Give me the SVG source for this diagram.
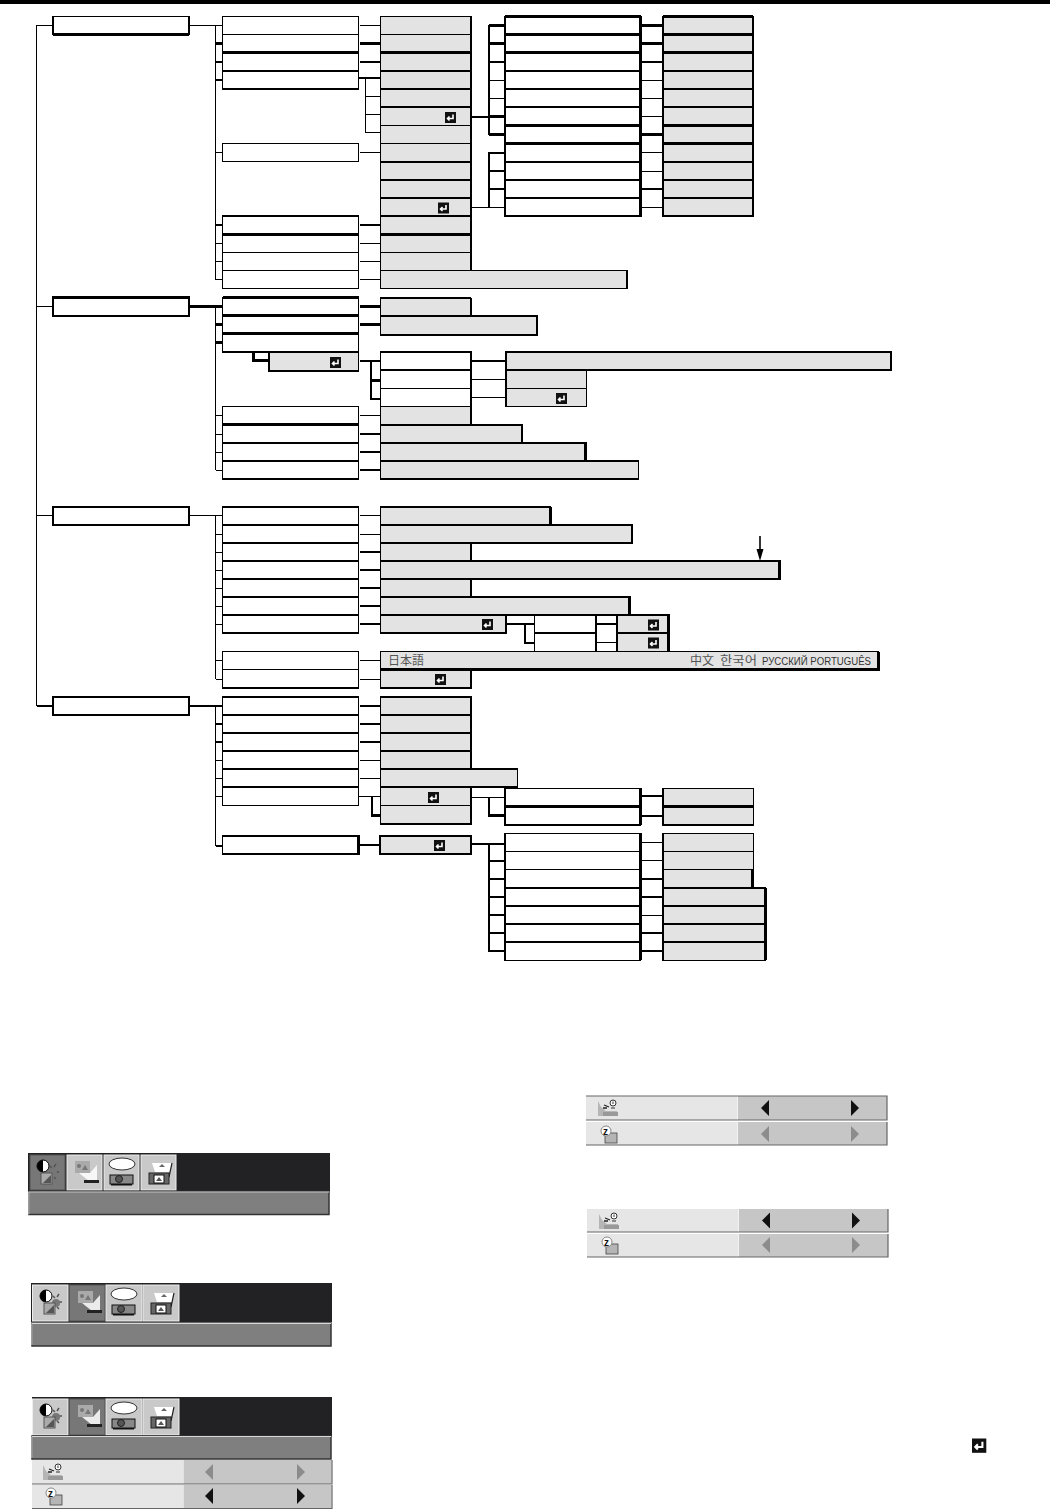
<svg xmlns="http://www.w3.org/2000/svg" width="1050" height="1509" viewBox="0 0 1050 1509">
<style>
.w{fill:#fff;stroke:#000;stroke-width:1.2;shape-rendering:crispEdges}
.g{fill:#e3e3e3;stroke:#000;stroke-width:1.2;shape-rendering:crispEdges}
.l{fill:none;stroke:#000;stroke-width:1.2;shape-rendering:crispEdges}
.t{fill:none;stroke:#000;stroke-width:2.2;shape-rendering:crispEdges}
.lab{font-family:"Liberation Sans",sans-serif;font-size:10px;fill:#333}
.cjk{font-family:"Noto Sans CJK JP","Noto Sans CJK KR",sans-serif;font-size:12px;fill:#555}
.tab{fill:#c9c9c9;stroke:#eee;stroke-width:1}
.sel{fill:#777;stroke:#555;stroke-width:1}
.bar{fill:#7f7f7f;stroke:#333;stroke-width:1.5}
.hi{fill:none;stroke:#d8d8d8;stroke-width:1}
.sh{fill:none;stroke:#666;stroke-width:1.2}
.dk{fill:#222224}
.rl{fill:#e6e6e6}
.rr{fill:#c6c6c6}
.on{fill:#111}
.off{fill:#8c8c8c}
</style>
<defs>
<g id="ret"><rect width="11" height="11" fill="#111"/><path d="M8 2.5V6.5H3M4.5 4.5L2.5 6.5L4.5 8.5" fill="none" stroke="#fff" stroke-width="1.6"/></g>
<g id="i1"><circle cx="13" cy="11" r="6" fill="#fff" stroke="#000"/><path d="M13 5A6 6 0 0 0 13 17Z" fill="#000"/><path d="M22 13L20 11M26 17H29M24 22L26 24M24 12L26 9" stroke="#555" stroke-width="1.5"/><circle cx="23" cy="18" r="4" fill="#777"/><rect x="11" y="18" width="11" height="11" fill="#aaa" stroke="#555"/><path d="M13 28L21 20V28Z" fill="#555"/></g>
<g id="i2"><rect x="8" y="6" width="15" height="12" fill="#aaa"/><circle cx="12" cy="11" r="2" fill="#777"/><path d="M15 15L18 10L21 15Z" fill="#777"/><path d="M12 18H23L30 10V26H22Z" fill="#fff" opacity=".85"/><rect x="17" y="25" width="15" height="3" fill="#222"/></g>
<g id="i3"><ellipse cx="18" cy="9" rx="13" ry="6" fill="#fff" stroke="#333"/><rect x="6" y="20" width="23" height="9" fill="#888" stroke="#111"/><circle cx="15" cy="24" r="3.5" fill="#555" stroke="#222"/><rect x="7" y="29" width="21" height="1.5" fill="#111"/></g>
<g id="i4"><path d="M11 8H31L29 17H14Z" fill="#fff"/><path d="M21 9L24 12H18Z" fill="#666"/><path d="M31 8L28 22" stroke="#222" stroke-width="1.2"/><rect x="8" y="18" width="20" height="11" fill="#666" stroke="#222"/><rect x="13" y="20" width="10" height="8" fill="#fff" stroke="#111"/><path d="M15 26L18 22L21 26Z" fill="#555"/></g>
<g id="r1"><path d="M0 2V17H19V12H8L3 8Z" fill="#b5b5b5"/><rect x="5" y="13" width="15" height="4" fill="#999"/><path d="M6 6L11 8M5 9H9" stroke="#222" stroke-width="1.3"/><circle cx="15" cy="4" r="3" fill="#fff" stroke="#333"/><path d="M15 2.5V5M13 9H17" stroke="#333"/></g>
<g id="r2"><rect x="5" y="7" width="12" height="10" fill="#b5b5b5" stroke="#444" stroke-width=".8"/><circle cx="6" cy="5" r="5" fill="#fff" stroke="#888"/><text x="3" y="8.5" font-family="Liberation Sans,sans-serif" font-size="10" font-weight="bold" fill="#111">z</text></g>
</defs>
<rect id="bg" width="1050" height="1509" fill="#fff"/>
<rect id="top-bar" width="1050" height="4" fill="#000"/>

<g id="connectors">
<path class="l" d="M53 25.5H36.5V706M36.5 306.5H53M36.5 515.5H53M36.5 706H53M190 25.5H222.5M215.5 25.5V279.5M215.5 152.5H222.5M215.5 243.5H222.5M215.5 261.5H222.5M215.5 279.5H222.5M360 25.5H380.5M360 152.5H380.5M360 243.5H380.5M360 261.5H380.5M360 279.5H380.5M365.5 78.5V132.5H380.5M365.5 96.5H380.5M365.5 114.5H380.5M471 207.5H505M641 80.5H663M641 98.5H663M641 116.5H663M641 152.5H663M641 171.5H663M641 207.5H663M488 80.5H505M488 98.5H505M488 207.5H505"/>
<path class="t" d="M215.5 43.5H222.5M215.5 62H222.5M215.5 80H222.5M215.5 225H222.5M360 43.5H380.5M360 62H380.5M359 78H380.5M360 225H380.5M471 117H505M489 25V135M489 25.5H505M489 43.5H505M489 62H505M489 116.5H505M489 134.5H505M505 153H489V207M489 171H505M489 189H505M641 25.5H663M641 43.5H663M641 62H663M641 134.5H663M641 189H663"/>

<path class="l" d="M215.5 306.5V470M215.5 415.5H222.5M215.5 434.5H222.5M215.5 452.5H222.5M215.5 470.5H222.5M360 415.5H380.5M471 379.5H506M471 397.5H506"/>
<path class="t" d="M189 306.5H222.5M215.5 324.5H222.5M215.5 342.5H222.5M253.5 352V360.5H269M360 306.5H380.5M360 324.5H380.5M360 361H380.5M371 361V399H380.5M371 380.5H380.5M471 361H506M360 434H380.5M360 452H380.5M360 470H380.5"/>

<path class="l" d="M189 515.5H222.5M215.5 515.5V679M215.5 534.5H222.5M215.5 552.5H222.5M215.5 570.5H222.5M215.5 588.5H222.5M215.5 606.5H222.5M215.5 624.5H222.5M215.5 660.5H222.5M215.5 679.5H222.5M360 515.5H380.5M360 534.5H380.5M360 660.5H380.5M360 679.5H380.5M596 642.5H617"/>
<path class="t" d="M360 552H380.5M360 570H380.5M360 588H380.5M360 606H380.5M360 624H380.5M506 624H534M525 624V643H534M596 624H617"/>
<path d="M760 536V553" stroke="#000" stroke-width="1.6" fill="none"/><path d="M756.5 549L760 561L763.5 549Z" fill="#000"/>

<path class="l" d="M215.5 706V846M215.5 760.5H222.5M215.5 778.5H222.5M215.5 796.5H222.5M360 760.5H380.5M360 778.5H380.5M359 796.5H380.5M471 797.5H505M641 842.5H663M641 860.5H663M641 915.5H663"/>
<path class="t" d="M189 706H222.5M215.5 724H222.5M215.5 742H222.5M215.5 846H222.5M360 706H380.5M360 724H380.5M360 742H380.5M372 796.5V815.5H380.5M489 797.5V815.5H505M641 796H663M641 816H663M359 845H380.5M471 844H505M489 844V951H505M489 861H505M489 879H505M489 897H505M489 915H505M489 933H505M641 879H663M641 897H663M641 933H663M641 951H663"/>
</g>

<g id="col-a">
<g id="a1"><rect class="w" x="53" y="16.5" width="136" height="18"/></g>
<g id="a2"><rect class="w" x="53" y="298" width="136" height="18"/></g>
<g id="a3"><rect class="w" x="53" y="507" width="136" height="18"/></g>
<g id="a4"><rect class="w" x="53" y="697" width="136" height="18"/></g>
</g>

<g id="s1-b">
<g id="b1"><rect class="w" x="222.5" y="16.5" width="136" height="18"/></g>
<g id="b2"><rect class="w" x="222.5" y="34.5" width="136" height="18"/></g>
<g id="b3"><rect class="w" x="222.5" y="52.5" width="136" height="18.5"/></g>
<g id="b4"><rect class="w" x="222.5" y="71" width="136" height="18"/></g>
<g id="b5"><rect class="w" x="222.5" y="143.5" width="136" height="18"/></g>
<g id="b6"><rect class="w" x="222.5" y="216" width="136" height="18.5"/></g>
<g id="b7"><rect class="w" x="222.5" y="234.5" width="136" height="18"/></g>
<g id="b8"><rect class="w" x="222.5" y="252.5" width="136" height="18"/></g>
<g id="b9"><rect class="w" x="222.5" y="270.5" width="136" height="18"/></g>
</g>
<g id="s1-c">
<g id="c1"><rect class="g" x="380.5" y="16.5" width="90" height="18"/></g>
<g id="c2"><rect class="g" x="380.5" y="34.5" width="90" height="18"/></g>
<g id="c3"><rect class="g" x="380.5" y="52.5" width="90" height="18.5"/></g>
<g id="c4"><rect class="g" x="380.5" y="71" width="90" height="18"/></g>
<g id="c5"><rect class="g" x="380.5" y="89" width="90" height="18"/></g>
<g id="c6"><rect class="g" x="380.5" y="107" width="90" height="18.5"/><use href="#ret" x="445" y="112"/></g>
<g id="c7"><rect class="g" x="380.5" y="125.5" width="90" height="18"/></g>
<g id="c8"><rect class="g" x="380.5" y="143.5" width="90" height="18.5"/></g>
<g id="c9"><rect class="g" x="380.5" y="162" width="90" height="18"/></g>
<g id="c10"><rect class="g" x="380.5" y="180" width="90" height="18"/></g>
<g id="c11"><rect class="g" x="380.5" y="198" width="90" height="18"/><use href="#ret" x="438" y="202.5"/></g>
<g id="c12"><rect class="g" x="380.5" y="216" width="90" height="18.5"/></g>
<g id="c13"><rect class="g" x="380.5" y="234.5" width="90" height="18"/></g>
<g id="c14"><rect class="g" x="380.5" y="252.5" width="90" height="18"/></g>
<g id="c15"><rect class="g" x="380.5" y="270.5" width="246.5" height="18"/></g>
</g>
<g id="s1-d">
<g id="d1"><rect class="w" x="505" y="16.5" width="135.5" height="18"/></g>
<g id="d2"><rect class="w" x="505" y="34.5" width="135.5" height="18"/></g>
<g id="d3"><rect class="w" x="505" y="52.5" width="135.5" height="18.5"/></g>
<g id="d4"><rect class="w" x="505" y="71" width="135.5" height="18"/></g>
<g id="d5"><rect class="w" x="505" y="89" width="135.5" height="18"/></g>
<g id="d6"><rect class="w" x="505" y="107" width="135.5" height="18.5"/></g>
<g id="d7"><rect class="w" x="505" y="125.5" width="135.5" height="18"/></g>
<g id="d8"><rect class="w" x="505" y="143.5" width="135.5" height="18.5"/></g>
<g id="d9"><rect class="w" x="505" y="162" width="135.5" height="18"/></g>
<g id="d10"><rect class="w" x="505" y="180" width="135.5" height="18"/></g>
<g id="d11"><rect class="w" x="505" y="198" width="135.5" height="18"/></g>
</g>
<g id="s1-e">
<g id="e1"><rect class="g" x="663" y="16.5" width="90" height="18"/></g>
<g id="e2"><rect class="g" x="663" y="34.5" width="90" height="18"/></g>
<g id="e3"><rect class="g" x="663" y="52.5" width="90" height="18.5"/></g>
<g id="e4"><rect class="g" x="663" y="71" width="90" height="18"/></g>
<g id="e5"><rect class="g" x="663" y="89" width="90" height="18"/></g>
<g id="e6"><rect class="g" x="663" y="107" width="90" height="18.5"/></g>
<g id="e7"><rect class="g" x="663" y="125.5" width="90" height="18"/></g>
<g id="e8"><rect class="g" x="663" y="143.5" width="90" height="18.5"/></g>
<g id="e9"><rect class="g" x="663" y="162" width="90" height="18"/></g>
<g id="e10"><rect class="g" x="663" y="180" width="90" height="18"/></g>
<g id="e11"><rect class="g" x="663" y="198" width="90" height="18"/></g>
</g>

<g id="s2">
<g id="b10"><rect class="w" x="222.5" y="297.5" width="136" height="18"/></g>
<g id="b11"><rect class="w" x="222.5" y="315.5" width="136" height="18"/></g>
<g id="b12"><rect class="w" x="222.5" y="333.5" width="136" height="18.5"/></g>
<g id="b13"><rect class="g" x="269" y="352" width="89.5" height="18.5"/><use href="#ret" x="330" y="357"/></g>
<g id="b14"><rect class="w" x="222.5" y="406.5" width="136" height="18"/></g>
<g id="b15"><rect class="w" x="222.5" y="424.5" width="136" height="18.5"/></g>
<g id="b16"><rect class="w" x="222.5" y="443" width="136" height="18"/></g>
<g id="b17"><rect class="w" x="222.5" y="461" width="136" height="18"/></g>
<g id="c16"><rect class="g" x="380.5" y="298" width="90" height="18"/></g>
<g id="c17"><rect class="g" x="380.5" y="316" width="156.5" height="18.5"/></g>
<g id="c18"><rect class="w" x="380.5" y="352" width="90" height="18"/></g>
<g id="c19"><rect class="w" x="380.5" y="370" width="90" height="18.5"/></g>
<g id="c20"><rect class="w" x="380.5" y="388.5" width="90" height="18"/></g>
<g id="c21"><rect class="g" x="380.5" y="406.5" width="90" height="18.5"/></g>
<g id="c22"><rect class="g" x="380.5" y="425" width="141.5" height="18"/></g>
<g id="c23"><rect class="g" x="380.5" y="443" width="205" height="18"/></g>
<g id="c24"><rect class="g" x="380.5" y="461" width="258" height="18"/></g>
<g id="e12"><rect class="g" x="506" y="352" width="385" height="18"/></g>
<g id="e13"><rect class="g" x="506" y="370" width="80.5" height="18.5"/></g>
<g id="e14"><rect class="g" x="506" y="388.5" width="80.5" height="18"/><use href="#ret" x="556" y="393"/></g>
</g>

<g id="s3">
<g id="b18"><rect class="w" x="222.5" y="507" width="136" height="18"/></g>
<g id="b19"><rect class="w" x="222.5" y="525" width="136" height="18"/></g>
<g id="b20"><rect class="w" x="222.5" y="543" width="136" height="18"/></g>
<g id="b21"><rect class="w" x="222.5" y="561" width="136" height="18"/></g>
<g id="b22"><rect class="w" x="222.5" y="579" width="136" height="18"/></g>
<g id="b23"><rect class="w" x="222.5" y="597" width="136" height="18"/></g>
<g id="b24"><rect class="w" x="222.5" y="615" width="136" height="18"/></g>
<g id="b25"><rect class="w" x="222.5" y="651.5" width="136" height="18"/></g>
<g id="b26"><rect class="w" x="222.5" y="669.5" width="136" height="18.5"/></g>
<g id="c25"><rect class="g" x="380.5" y="507" width="170" height="18"/></g>
<g id="c26"><rect class="g" x="380.5" y="525" width="251.5" height="18"/></g>
<g id="c27"><rect class="g" x="380.5" y="543" width="90" height="18"/></g>
<g id="c28"><rect class="g" x="380.5" y="561" width="399" height="18"/></g>
<g id="c29"><rect class="g" x="380.5" y="579" width="90" height="18"/></g>
<g id="c30"><rect class="g" x="380.5" y="597" width="249" height="18"/></g>
<g id="c31"><rect class="g" x="380.5" y="615" width="125.5" height="18"/><use href="#ret" x="482" y="619"/></g>
<g id="d12"><rect class="w" x="534.5" y="615" width="61.5" height="18"/></g>
<g id="d13"><rect class="w" x="534.5" y="633" width="61.5" height="18.5"/></g>
<g id="e15"><rect class="g" x="617" y="615" width="51.5" height="18"/><use href="#ret" x="648" y="619.5"/></g>
<g id="e16"><rect class="g" x="617" y="633" width="51.5" height="18.5"/><use href="#ret" x="648" y="637.5"/></g>
<g id="c32"><rect class="g" x="380.5" y="651.5" width="498" height="18"/>
<text class="cjk" x="388" y="665">日本語</text><text class="cjk" x="690" y="665">中文</text><text class="cjk" x="720" y="665" textLength="37" lengthAdjust="spacingAndGlyphs">한국어</text>
<text class="lab" x="762" y="665" textLength="109" lengthAdjust="spacingAndGlyphs">РУССКИЙ PORTUGUÊS</text></g>
<g id="c33"><rect class="g" x="380.5" y="669.5" width="90" height="18.5"/><use href="#ret" x="435" y="674"/></g>
</g>

<g id="s4">
<g id="b27"><rect class="w" x="222.5" y="697" width="136" height="18"/></g>
<g id="b28"><rect class="w" x="222.5" y="715" width="136" height="18"/></g>
<g id="b29"><rect class="w" x="222.5" y="733" width="136" height="18"/></g>
<g id="b30"><rect class="w" x="222.5" y="751" width="136" height="18"/></g>
<g id="b31"><rect class="w" x="222.5" y="769" width="136" height="18"/></g>
<g id="b32"><rect class="w" x="222.5" y="787" width="136" height="18.5"/></g>
<g id="b33"><rect class="w" x="222.5" y="836" width="136" height="18"/></g>
<g id="c34"><rect class="g" x="380.5" y="697" width="90" height="18"/></g>
<g id="c35"><rect class="g" x="380.5" y="715" width="90" height="18"/></g>
<g id="c36"><rect class="g" x="380.5" y="733" width="90" height="18"/></g>
<g id="c37"><rect class="g" x="380.5" y="751" width="90" height="18"/></g>
<g id="c38"><rect class="g" x="380.5" y="769" width="137" height="18"/></g>
<g id="c39"><rect class="g" x="380.5" y="787" width="90" height="18.5"/><use href="#ret" x="428" y="792"/></g>
<g id="c40"><rect class="g" x="380.5" y="805.5" width="90" height="18.5"/></g>
<g id="c41"><rect class="g" x="380" y="836" width="90.5" height="18"/><use href="#ret" x="434" y="840"/></g>
<g id="d14"><rect class="w" x="505" y="788.5" width="135.5" height="18"/></g>
<g id="d15"><rect class="w" x="505" y="806.5" width="135.5" height="18.5"/></g>
<g id="e17"><rect class="g" x="663" y="788.5" width="90.5" height="18"/></g>
<g id="e18"><rect class="g" x="663" y="806.5" width="90.5" height="18.5"/></g>
<g id="d16"><rect class="w" x="505" y="833.5" width="135.5" height="18"/></g>
<g id="d17"><rect class="w" x="505" y="851.5" width="135.5" height="18"/></g>
<g id="d18"><rect class="w" x="505" y="869.5" width="135.5" height="18.5"/></g>
<g id="d19"><rect class="w" x="505" y="888" width="135.5" height="18"/></g>
<g id="d20"><rect class="w" x="505" y="906" width="135.5" height="18"/></g>
<g id="d21"><rect class="w" x="505" y="924" width="135.5" height="18"/></g>
<g id="d22"><rect class="w" x="505" y="942" width="135.5" height="18.5"/></g>
<g id="e19"><rect class="g" x="663" y="833.5" width="90.5" height="18"/></g>
<g id="e20"><rect class="g" x="663" y="851.5" width="90.5" height="18"/></g>
<g id="e21"><rect class="g" x="663" y="869.5" width="89.5" height="18.5"/></g>
<g id="e22"><rect class="g" x="663" y="888" width="102.5" height="18"/></g>
<g id="e23"><rect class="g" x="663" y="906" width="102.5" height="18"/></g>
<g id="e24"><rect class="g" x="663" y="924" width="102.5" height="18"/></g>
<g id="e25"><rect class="g" x="663" y="942" width="102.5" height="18.5"/></g>
</g>

<g id="heavy-edges">
<path class="t" d="M53 16V35M189 16V35M53 34.5H189M53 297.5H189V316H53ZM53 525H189M53 697H189V715H53Z"/>
<path class="t" d="M222.5 52.5H358.5M222.5 71H358.5M222.5 89H358.5M222.5 216H358.5M222.5 234.5H358.5M471 16V270.5M380.5 52.5H471M380.5 71H471M380.5 89H471M380.5 107H471M380.5 180H471M380.5 198H471M380.5 216H471M380.5 234.5H471M627 270.5V288.5"/>
<path class="t" d="M505 16.5H640.5M505 34.5H640.5M505 52.5H640.5M505 71H640.5M505 125.5H640.5M505 143.5H640.5M505 162H640.5M505 180H640.5M505 198H640.5M505 216H640.5M505 16V217M640.5 16V217M663 16.5H753M663 34.5H753M663 52.5H753M663 71H753M663 125.5H753M663 143.5H753M663 162H753M663 180H753M663 198H753M663 216H753M663 16V217M753 16V217"/>
<path class="t" d="M222.5 297.5H358.5M222.5 315.5H358.5M222.5 333.5H358.5M222.5 352H358.5M269 352V371H358.5M222.5 424.5H358.5M222.5 443H358.5M222.5 461H358.5M222.5 479H358.5M471 298V316M537 316V335H380M380.5 352H471V425M380.5 370H471M380.5 425H522V443M380.5 443H585.5V461M380.5 461H638.5M380.5 479H638.5M506 352V406.5M506 352H891V370H506"/>
<path class="t" d="M550.5 507V525M471 543V561M380.5 561H779.5V579H380.5M471 579V597M380.5 597H629.5V615M380.5 615H668.5V651M506 615V633M596 615V651M222.5 561H358.5M222.5 579H358.5M222.5 597H358.5M222.5 615H358.5M380.5 669.5H878.5V652M471 669.5V688H380.5M222.5 633H358.5"/>
<path class="t" d="M222.5 697H358.5M222.5 715H358.5M222.5 733H358.5M222.5 751H358.5M222.5 836H358.5V854H222.5M380.5 697H471V769M380.5 715H471M380.5 733H471M380.5 751H471M471 787V824H380.5M380 836H471V854H380V836"/>
<path class="t" d="M505 806.5H640.5M505 825H640.5M663 806.5H753.5M663 825H753.5M640.5 788V825M663 788V825M505 788V825M505 888H640.5M505 906H640.5M505 924H640.5M505 942H640.5M505 833V960M640.5 833V960M663 833V960M663 888H765.5M663 906H765.5M663 924H765.5M663 942H765.5M752.5 869.5V888M765.5 888V960"/>
</g>

<g id="panel1">
<rect class="dk" x="28" y="1153" width="302" height="38"/>
<rect class="sel" x="30" y="1155" width="35" height="35"/><use href="#i1" x="30" y="1155"/>
<rect class="tab" x="67" y="1155" width="35" height="35"/><use href="#i2" x="67" y="1155"/>
<rect class="tab" x="104" y="1155" width="35" height="35"/><use href="#i3" x="104" y="1155"/>
<rect class="tab" x="141" y="1155" width="35" height="35"/><use href="#i4" x="141" y="1155"/>
<rect class="bar" x="29" y="1191.5" width="300" height="23"/>
<path class="hi" d="M29 1214V1192H329"/>
</g>
<g id="panel2">
<rect class="dk" x="31" y="1283" width="301" height="39"/>
<rect class="tab" x="32.5" y="1285" width="35.5" height="36"/><use href="#i1" x="33" y="1285"/>
<rect class="sel" x="69.5" y="1285" width="35.5" height="36"/><use href="#i2" x="70" y="1285"/>
<rect class="tab" x="106" y="1285" width="36" height="36"/><use href="#i3" x="106" y="1285"/>
<rect class="tab" x="143" y="1285" width="36" height="36"/><use href="#i4" x="143" y="1285"/>
<rect class="bar" x="32" y="1323" width="299" height="23"/>
<path class="hi" d="M32 1345V1323.5H331"/>
</g>
<g id="panel3">
<rect class="dk" x="32" y="1397" width="300" height="39"/>
<rect class="tab" x="32.5" y="1399" width="35.5" height="36"/><use href="#i1" x="33" y="1399"/>
<rect class="sel" x="69.5" y="1399" width="35.5" height="36"/><use href="#i2" x="70" y="1399"/>
<rect class="tab" x="106" y="1399" width="36" height="36"/><use href="#i3" x="106" y="1399"/>
<rect class="tab" x="143" y="1399" width="36" height="36"/><use href="#i4" x="143" y="1399"/>
<rect class="bar" x="32" y="1436" width="299" height="23"/>
<path class="hi" d="M32 1458V1436.5H331"/>
<rect class="rl" x="32" y="1460" width="151" height="24"/><rect class="rr" x="183.5" y="1460" width="148" height="24"/>
<rect class="rl" x="32" y="1485" width="151" height="24"/><rect class="rr" x="183.5" y="1485" width="148" height="24"/>
<path class="sh" d="M32 1484H332V1460M32 1508.5H332V1485"/>
<use href="#r1" x="43" y="1463"/><use href="#r2" x="45" y="1488"/>
<path class="off" d="M205 1472L213 1464V1480ZM305 1472L297 1464V1480Z"/>
<path class="on" d="M205 1496L213 1488V1504ZM305 1496L297 1488V1504Z"/>
</g>
<g id="panel4">
<rect class="rl" x="586" y="1096" width="151.5" height="24"/><rect class="rr" x="738" y="1096" width="149" height="24"/>
<rect class="rl" x="586" y="1122" width="151.5" height="23"/><rect class="rr" x="738" y="1122" width="149" height="23"/>
<path class="sh" d="M586 1120H887V1096H586M586 1145H887V1122"/>
<use href="#r1" x="598" y="1099"/><use href="#r2" x="600" y="1126"/>
<path class="on" d="M761 1108L769 1100V1116ZM859 1108L851 1100V1116Z"/>
<path class="off" d="M761 1134L769 1126V1142ZM859 1134L851 1126V1142Z"/>
</g>
<g id="panel5">
<rect class="rl" x="587" y="1209" width="151.5" height="23"/><rect class="rr" x="739" y="1209" width="149" height="23"/>
<rect class="rl" x="587" y="1234" width="151.5" height="23"/><rect class="rr" x="739" y="1234" width="149" height="23"/>
<path class="sh" d="M587 1232H888V1209M587 1257H888V1234"/>
<use href="#r1" x="599" y="1212"/><use href="#r2" x="601" y="1237"/>
<path class="on" d="M762 1220.5L770 1212.5V1228.5ZM860 1220.5L852 1212.5V1228.5Z"/>
<path class="off" d="M762 1245L770 1237V1253ZM860 1245L852 1237V1253Z"/>
</g>
<use id="return-note" href="#ret" transform="translate(972 1438.5) scale(1.3)"/>
</svg>
